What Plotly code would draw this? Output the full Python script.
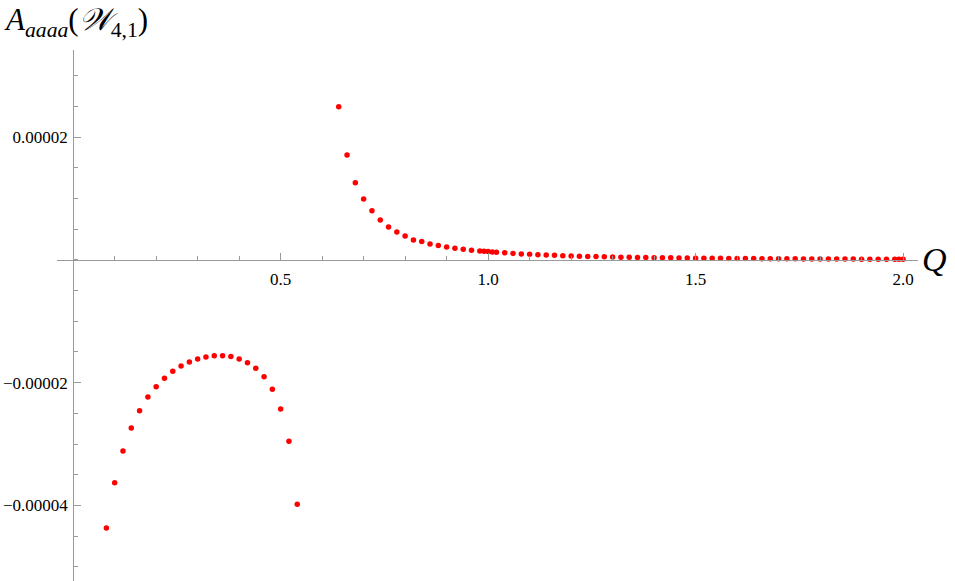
import plotly.graph_objects as go

# Lower branch (Q < 0.56)
q_low = [0.08, 0.10, 0.12, 0.14, 0.16, 0.18, 0.20, 0.22, 0.24, 0.26, 0.28, 0.30,
         0.32, 0.34, 0.36, 0.38, 0.40, 0.42, 0.44, 0.46, 0.48, 0.50, 0.52, 0.54]
a_low = [-4.368e-5, -3.630e-5, -3.113e-5, -2.738e-5, -2.456e-5, -2.233e-5,
         -2.065e-5, -1.928e-5, -1.814e-5, -1.728e-5, -1.663e-5, -1.614e-5,
         -1.581e-5, -1.560e-5, -1.560e-5, -1.576e-5, -1.614e-5, -1.674e-5,
         -1.765e-5, -1.902e-5, -2.108e-5, -2.429e-5, -2.955e-5, -3.982e-5]

# Upper branch (Q >= 0.64)
q_up = [0.64, 0.66, 0.68, 0.70, 0.72, 0.74, 0.76, 0.78, 0.80, 0.82, 0.84, 0.86,
        0.88, 0.90, 0.92, 0.94, 0.96, 0.98, 0.99, 1.00, 1.01, 1.02,
        1.04, 1.06, 1.08, 1.10, 1.12, 1.14, 1.16, 1.18, 1.20, 1.22, 1.24, 1.26,
        1.28, 1.30, 1.32, 1.34, 1.36, 1.38, 1.40, 1.42, 1.44, 1.46, 1.48, 1.50,
        1.52, 1.54, 1.56, 1.58, 1.60, 1.62, 1.64, 1.66, 1.68, 1.70, 1.72, 1.74,
        1.76, 1.78, 1.80, 1.82, 1.84, 1.86, 1.88, 1.90, 1.92, 1.94, 1.96, 1.98,
        1.99, 2.00]
a_up = [2.494e-5, 1.711e-5, 1.255e-5, 9.94e-6, 7.99e-6, 6.52e-6, 5.38e-6, 4.56e-6,
        3.91e-6, 3.26e-6, 2.98e-6, 2.61e-6, 2.33e-6, 2.12e-6, 1.91e-6, 1.74e-6,
        1.58e-6, 1.45e-6, 1.40e-6, 1.35e-6, 1.30e-6, 1.25e-6,
        1.15e-6, 1.06e-6, 0.98e-6, 0.91e-6, 0.85e-6, 0.79e-6, 0.74e-6, 0.69e-6,
        0.65e-6, 0.61e-6, 0.57e-6, 0.54e-6, 0.51e-6, 0.48e-6, 0.45e-6, 0.42e-6,
        0.40e-6, 0.38e-6, 0.36e-6, 0.34e-6, 0.33e-6, 0.31e-6, 0.30e-6, 0.28e-6,
        0.27e-6, 0.26e-6, 0.25e-6, 0.24e-6, 0.23e-6, 0.22e-6, 0.21e-6, 0.20e-6,
        0.19e-6, 0.185e-6, 0.18e-6, 0.17e-6, 0.165e-6, 0.16e-6, 0.15e-6, 0.145e-6,
        0.14e-6, 0.135e-6, 0.13e-6, 0.125e-6, 0.12e-6, 0.115e-6, 0.11e-6, 0.108e-6,
        0.106e-6, 0.104e-6]

x_tickvals = [0.5, 1.0, 1.5, 2.0]
x_ticktext = ["0.5", "1.0", "1.5", "2.0"]
y_tickvals = [-4e-5, -2e-5, 2e-5]
y_ticktext = ["\u22120.00004", "\u22120.00002", "0.00002"]

x_range = [-0.039, 2.036]
y_range = [-5.232e-5, 3.42e-5]

axis_col = "#9a9a9a"
font_fam = "Liberation Serif"

fig = go.Figure()
for qs, vs in [(q_low, a_low), (q_up, a_up)]:
    fig.add_trace(go.Scatter(x=qs, y=vs, mode="markers",
                             marker=dict(color="#ff0000", size=5.5, line=dict(width=0)),
                             hoverinfo="x+y"))

x_pos = (0 - y_range[0]) / (y_range[1] - y_range[0])
y_pos = (0 - x_range[0]) / (x_range[1] - x_range[0])

fig.update_layout(
    width=955, height=581,
    margin=dict(l=57, r=37, t=50, b=0),
    plot_bgcolor="white", paper_bgcolor="white",
    showlegend=False,
    xaxis=dict(range=x_range, anchor="free", position=x_pos, side="bottom",
               automargin=False,
               showline=True, linecolor=axis_col, linewidth=1,
               ticks="inside", ticklen=7, tickwidth=1, tickcolor=axis_col,
               tickmode="array", tickvals=x_tickvals, ticktext=x_ticktext,
               ticklabelstandoff=4,
               minor=dict(ticks="inside", ticklen=4, tickcolor=axis_col, tickwidth=1,
                          dtick=0.1, tick0=0, showgrid=False),
               showgrid=False, zeroline=False,
               tickfont=dict(family=font_fam, size=17, color="black")),
    yaxis=dict(range=y_range, anchor="free", position=y_pos, side="left",
               automargin=False,
               showline=True, linecolor=axis_col, linewidth=1,
               ticks="inside", ticklen=7, tickwidth=1, tickcolor=axis_col,
               tickmode="array", tickvals=y_tickvals, ticktext=y_ticktext,
               ticklabelstandoff=2,
               minor=dict(ticks="inside", ticklen=4, tickcolor=axis_col, tickwidth=1,
                          dtick=5e-6, tick0=0, showgrid=False),
               showgrid=False, zeroline=False,
               tickfont=dict(family=font_fam, size=17, color="black")),
)

fig.add_annotation(xref="paper", yref="paper", x=-0.064, y=1.095,
                   xanchor="left", yanchor="top", showarrow=False,
                   text="<i>A</i><sub><i>aaaa</i></sub>(<i>𝒲</i><sub>4,1</sub>)",
                   font=dict(family=font_fam, size=31, color="black"))
fig.add_annotation(xref="paper", yref="y", x=1.002, y=0,
                   xanchor="left", yanchor="middle", showarrow=False,
                   text="<i>Q</i>",
                   font=dict(family=font_fam, size=34, color="black"))

fig.write_html("out.html", config={"displayModeBar": False},
               post_script="document.body.style.margin='0';")
